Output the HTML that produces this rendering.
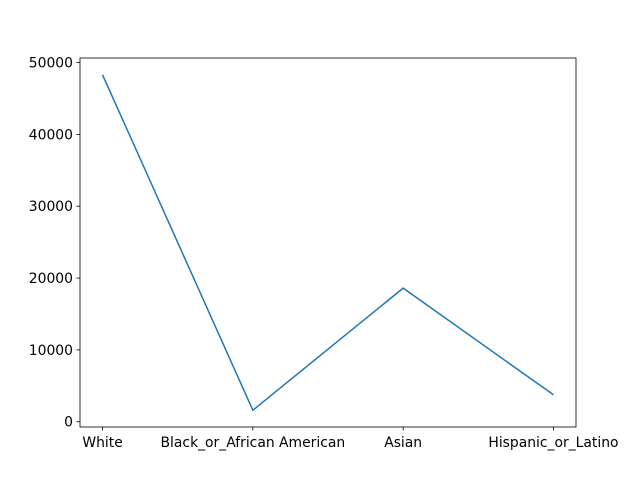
<!DOCTYPE html>
<html><head><meta charset="utf-8"><style>body{margin:0;background:#fff}svg{display:block;font-family:"DejaVu Sans","Liberation Sans",sans-serif}</style></head>
<body>
<svg id="chart" width="640" height="480"></svg>
<script>
const categories = ["White","Black_or_African American","Asian","Hispanic_or_Latino"];
const values = [48300, 1600, 18600, 3750];
const yTicks = [0,10000,20000,30000,40000,50000];
const NS="http://www.w3.org/2000/svg";
const svg=document.getElementById('chart');
const L=80,R=576,T=58,B=427;
const minV=Math.min(...values),maxV=Math.max(...values),pad=(maxV-minV)*0.05;
const y0=minV-pad,y1=maxV+pad;
const n=categories.length,xpad=(n-1)*0.05;
function xs(i){return L+(i+xpad)/((n-1)+2*xpad)*(R-L);}
function ys(v){return B-(v-y0)/(y1-y0)*(B-T);}
function mk(t,a,p){const e=document.createElementNS(NS,t);for(const k in a)e.setAttribute(k,a[k]);(p||svg).appendChild(e);return e;}
yTicks.forEach(v=>{const y=ys(v);
const tk=mk('line',{x1:L-3.5,x2:L,y1:y,y2:y,stroke:'#000','stroke-width':0.8});


const t=mk('text',{x:L-7,y:y+5,'text-anchor':'end','font-size':13.9});t.textContent=v;

});
categories.forEach((c,i)=>{const x=xs(i);
const tk=mk('line',{x1:x,x2:x,y1:B,y2:B+3.5,stroke:'#000','stroke-width':0.8});


const t=mk('text',{x:x,y:B+20,'text-anchor':'middle','font-size':13.9});t.textContent=c;

});
const line=mk('polyline',{points:values.map((v,i)=>xs(i)+','+ys(v)).join(' '),fill:'none',stroke:'#1f77b4','stroke-width':1.5});


const frame=mk('rect',{x:L,y:T,width:R-L,height:B-T,fill:'none',stroke:'#000','stroke-width':0.8});


</script>
</body></html>
